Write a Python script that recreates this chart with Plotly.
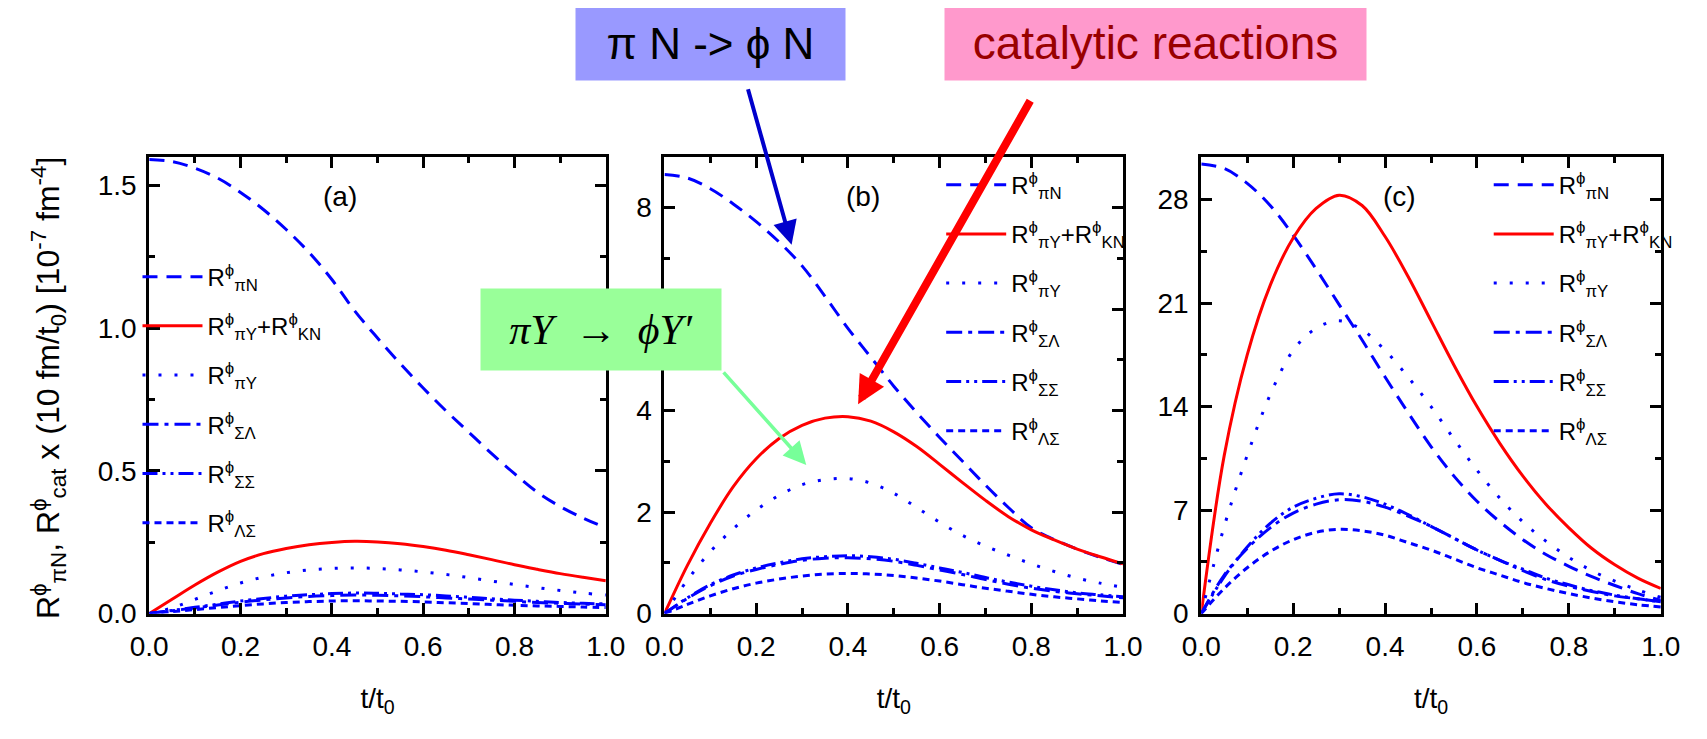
import plotly.graph_objects as go

# ---------------- data ----------------
t = [0.0, 0.05, 0.1, 0.15, 0.2, 0.25, 0.3, 0.35, 0.4, 0.45, 0.5,
     0.55, 0.6, 0.65, 0.7, 0.75, 0.8, 0.85, 0.9, 0.95, 1.0]

# panel (a)
a_piN = [1.59, 1.583, 1.56, 1.525, 1.475, 1.415, 1.345, 1.265, 1.17, 1.06, 0.965,
         0.875, 0.79, 0.71, 0.635, 0.56, 0.49, 0.425, 0.375, 0.335, 0.30]
a_cat = [0.0, 0.05, 0.10, 0.145, 0.183, 0.21, 0.228, 0.241, 0.249, 0.253, 0.251,
         0.245, 0.235, 0.222, 0.206, 0.189, 0.171, 0.155, 0.140, 0.127, 0.115]
a_piY = [0.0, 0.02, 0.05, 0.08, 0.107, 0.128, 0.143, 0.153, 0.158, 0.16, 0.158,
         0.153, 0.146, 0.137, 0.126, 0.114, 0.102, 0.091, 0.081, 0.072, 0.065]
a_SL = [0.0, 0.01, 0.02, 0.03, 0.04, 0.048, 0.055, 0.06, 0.063, 0.065, 0.064,
        0.062, 0.059, 0.055, 0.051, 0.047, 0.043, 0.039, 0.036, 0.033, 0.031]
a_SS = [0.0, 0.011, 0.022, 0.033, 0.044, 0.053, 0.061, 0.066, 0.07, 0.072, 0.071,
        0.069, 0.066, 0.062, 0.057, 0.052, 0.047, 0.043, 0.039, 0.036, 0.034]
a_LS = [0.0, 0.007, 0.014, 0.021, 0.028, 0.034, 0.039, 0.042, 0.044, 0.045, 0.044,
        0.043, 0.041, 0.038, 0.035, 0.032, 0.029, 0.027, 0.025, 0.023, 0.021]

# panel (b)
b_piN = [8.65, 8.58, 8.37, 8.07, 7.72, 7.32, 6.85, 6.25, 5.62, 5.05, 4.48,
         3.96, 3.47, 3.00, 2.53, 2.09, 1.69, 1.46, 1.27, 1.11, 0.97]
b_cat = [0.0, 0.95, 1.78, 2.50, 3.05, 3.45, 3.71, 3.85, 3.88, 3.79, 3.58,
         3.29, 2.94, 2.58, 2.23, 1.91, 1.65, 1.45, 1.27, 1.12, 0.98]
b_piY = [0.0, 0.66, 1.22, 1.67, 2.04, 2.33, 2.54, 2.64, 2.66, 2.57, 2.37,
         2.09, 1.80, 1.54, 1.33, 1.15, 0.98, 0.83, 0.70, 0.60, 0.52]
b_SL = [0.0, 0.30, 0.55, 0.74, 0.87, 0.97, 1.05, 1.09, 1.10, 1.08, 1.03,
        0.95, 0.86, 0.77, 0.67, 0.58, 0.50, 0.44, 0.39, 0.35, 0.31]
b_SS = [0.0, 0.31, 0.57, 0.76, 0.90, 1.00, 1.08, 1.12, 1.14, 1.12, 1.07,
        0.99, 0.90, 0.81, 0.71, 0.62, 0.54, 0.47, 0.41, 0.37, 0.33]
b_LS = [0.0, 0.18, 0.35, 0.49, 0.60, 0.68, 0.74, 0.78, 0.79, 0.78, 0.75,
        0.70, 0.64, 0.57, 0.50, 0.44, 0.38, 0.33, 0.29, 0.25, 0.22]

# panel (c)
c_piN = [30.4, 30.1, 29.1, 27.6, 25.6, 23.3, 20.9, 18.5, 16.0, 13.6, 11.3,
         9.3, 7.6, 6.2, 5.0, 4.0, 3.2, 2.5, 1.9, 1.35, 0.9]
c_cat = [0.0, 10.7, 17.5, 22.2, 25.4, 27.4, 28.3, 27.6, 25.5, 22.8, 19.8,
         16.8, 14.0, 11.5, 9.3, 7.4, 5.8, 4.4, 3.3, 2.4, 1.7]
c_piY = [0.0, 5.9, 10.7, 14.8, 17.8, 19.3, 19.8, 19.2, 17.8, 16.0, 14.0,
         11.8, 9.7, 7.8, 6.2, 4.9, 3.8, 2.9, 2.2, 1.6, 1.1]
c_SL = [0.0, 2.6, 4.4, 5.8, 6.8, 7.4, 7.7, 7.6, 7.2, 6.6, 5.9,
        5.1, 4.3, 3.6, 2.9, 2.3, 1.85, 1.5, 1.2, 1.0, 0.8]
c_SS = [0.0, 2.5, 4.5, 6.1, 7.2, 7.8, 8.1, 7.9, 7.4, 6.7, 5.9,
        5.1, 4.3, 3.6, 3.0, 2.4, 1.95, 1.55, 1.25, 1.0, 0.8]
c_LS = [0.0, 1.7, 3.1, 4.2, 5.0, 5.5, 5.7, 5.6, 5.3, 4.8, 4.3,
        3.7, 3.1, 2.6, 2.1, 1.7, 1.35, 1.05, 0.8, 0.6, 0.45]

series_names = [
    "R<sup>ϕ</sup><sub>πN</sub>",
    "R<sup>ϕ</sup><sub>πY</sub>+R<sup>ϕ</sup><sub>KN</sub>",
    "R<sup>ϕ</sup><sub>πY</sub>",
    "R<sup>ϕ</sup><sub>ΣΛ</sub>",
    "R<sup>ϕ</sup><sub>ΣΣ</sub>",
    "R<sup>ϕ</sup><sub>ΛΣ</sub>",
]
panel_labels = ["(a)", "(b)", "(c)"]
y_ranges = [[0, 1.6], [0, 9], [0, 30.9]]
y_dticks = [0.5, 2, 7]
y_minor = [0.25, 1, 3.5]
y_formats = [".1f", "d", "d"]
x_title = "t/t<sub>0</sub>"
y_title = ("R<sup>ϕ</sup><sub>πN</sub>, R<sup>ϕ</sup><sub>cat</sub> x (10 fm/t<sub>0</sub>) "
           "[10<sup>-7</sup> fm<sup>-4</sup>]")

panels = [
    [a_piN, a_cat, a_piY, a_SL, a_SS, a_LS],
    [b_piN, b_cat, b_piY, b_SL, b_SS, b_LS],
    [c_piN, c_cat, c_piY, c_SL, c_SS, c_LS],
]

# ---------------- styles ----------------
BLUE = "#0000FF"
RED = "#FF0000"
styles = [
    dict(color=BLUE, dash="15px,9px", width=3),
    dict(color=RED, dash="solid", width=3),
    dict(color=BLUE, dash="3px,13px", width=3),
    dict(color=BLUE, dash="16px,6px,4px,6px", width=3),
    dict(color=BLUE, dash="15px,5px,3px,5px,3px,5px", width=3),
    dict(color=BLUE, dash="7px,5px", width=3),
]

W, H = 1707, 739
x_dom_px = [(125, 592), (652, 1121), (1201, 1671)]
y_dom_px = (152, 619)  # top, bottom
legend_pos_px = [(113, 252), (935, 158), (1495, 158)]

FONT = "Liberation Sans, Arial, sans-serif"

fig = go.Figure()
legend_keys = ["legend", "legend2", "legend3"]
for p, data in enumerate(panels):
    xa = "x" if p == 0 else f"x{p+1}"
    ya = "y" if p == 0 else f"y{p+1}"
    for k, (vals, st) in enumerate(zip(data, styles)):
        fig.add_trace(go.Scatter(
            x=t, y=vals, mode="lines", name=series_names[k],
            line=dict(color=st["color"], dash=st["dash"], width=st["width"],
                      shape="spline", smoothing=1.0),
            xaxis=xa, yaxis=ya, legend=legend_keys[p],
            legendgroup=f"p{p}s{k}", hoverinfo="skip",
        ))

layout = dict(
    width=W, height=H,
    margin=dict(l=0, r=0, t=0, b=0),
    paper_bgcolor="white", plot_bgcolor="white",
    font=dict(family=FONT, color="black", size=24),
    showlegend=True,
)

for p in range(3):
    sx = "" if p == 0 else str(p + 1)
    x0, x1 = x_dom_px[p]
    layout["xaxis" + sx] = dict(
        domain=[x0 / W, x1 / W], range=[0, 1], dtick=0.2, tick0=0,
        tickformat=".1f", ticks="inside", ticklen=11, tickwidth=2.5,
        tickcolor="black", showline=True, linewidth=3, linecolor="black",
        mirror="ticks", showgrid=False, zeroline=False,
        tickfont=dict(size=28, family=FONT), ticklabelstandoff=6,
        minor=dict(dtick=0.1, ticks="inside", ticklen=6, tickwidth=2.5,
                   tickcolor="black", showgrid=False),
        title=dict(text=x_title, font=dict(size=28, family=FONT), standoff=28),
        anchor="y" + sx, fixedrange=True,
    )
    layout["yaxis" + sx] = dict(
        domain=[1 - y_dom_px[1] / H, 1 - y_dom_px[0] / H],
        range=y_ranges[p], dtick=y_dticks[p], tick0=0,
        tickformat=y_formats[p], ticks="inside", ticklen=11, tickwidth=2.5,
        tickcolor="black", showline=True, linewidth=3, linecolor="black",
        mirror="ticks", showgrid=False, zeroline=False,
        tickfont=dict(size=28, family=FONT), ticklabelstandoff=4,
        minor=dict(dtick=y_minor[p], ticks="inside", ticklen=6, tickwidth=2.5,
                   tickcolor="black", showgrid=False),
        anchor="x" + sx, fixedrange=True,
    )
    lx, ly = legend_pos_px[p]
    layout[legend_keys[p]] = dict(
        x=lx / W, y=1 - ly / H, xanchor="left", yanchor="top",
        bgcolor="rgba(0,0,0,0)", borderwidth=0,
        font=dict(size=24, family=FONT, color="black"),
        tracegroupgap=15, itemwidth=60,
    )

fig.update_layout(**layout)

# panel labels
label_pos = [0.418, 0.433, 0.432]
for p in range(3):
    sx = "" if p == 0 else str(p + 1)
    fig.add_annotation(
        text=panel_labels[p], xref=f"x{sx} domain", yref=f"y{sx} domain",
        x=label_pos[p], y=0.912, xanchor="center", yanchor="middle", showarrow=False,
        font=dict(size=28, family=FONT, color="black"),
    )

# y-axis title (rotated)
fig.add_annotation(
    text=y_title, xref="paper", yref="paper", x=22 / W, y=1 - 388 / H,
    xanchor="center", yanchor="middle",
    textangle=-90, showarrow=False, font=dict(size=32, family=FONT, color="black"),
)

# callout boxes
fig.add_annotation(
    text="π N -> ϕ N", xref="paper", yref="paper",
    x=699 / W, y=1 - 36 / H, xanchor="center", yanchor="middle", showarrow=False,
    width=269, height=74, bgcolor="#9999FF", borderpad=0,
    font=dict(size=44, family=FONT, color="black"),
)
fig.add_annotation(
    text="catalytic reactions", xref="paper", yref="paper",
    x=1154 / W, y=1 - 36 / H, xanchor="center", yanchor="middle", showarrow=False,
    width=421, height=74, bgcolor="#FF99CC", borderpad=0,
    font=dict(size=46, family=FONT, color="#990000"),
)
fig.add_annotation(
    text="<i>π</i><i>Y</i>  →  <i>ϕ</i><i>Y′</i>", xref="paper", yref="paper",
    x=587 / W, y=1 - 329 / H, xanchor="center", yanchor="middle", showarrow=False,
    width=240, height=81, bgcolor="#99FF99", borderpad=0,
    font=dict(size=42, family="Liberation Serif, DejaVu Serif, serif", color="black"),
)

# arrows (head at x,y; tail offset in px)
fig.add_annotation(
    text="", xref="paper", yref="paper", x=782 / W, y=1 - 242 / H,
    ax=-44, ay=-157, showarrow=True, arrowhead=2, arrowsize=1.2,
    arrowwidth=4, arrowcolor="#0000CC", standoff=0,
)
fig.add_annotation(
    text="", xref="paper", yref="paper", x=850 / W, y=1 - 405 / H,
    ax=173, ay=-305, showarrow=True, arrowhead=2, arrowsize=0.7,
    arrowwidth=8, arrowcolor="#FF0000", standoff=0,
)
fig.add_annotation(
    text="", xref="paper", yref="paper", x=797 / W, y=1 - 467 / H,
    ax=-84, ay=-94, showarrow=True, arrowhead=2, arrowsize=1.3,
    arrowwidth=3.5, arrowcolor="#77FF99", standoff=0,
)

fig.write_html("out.html")
